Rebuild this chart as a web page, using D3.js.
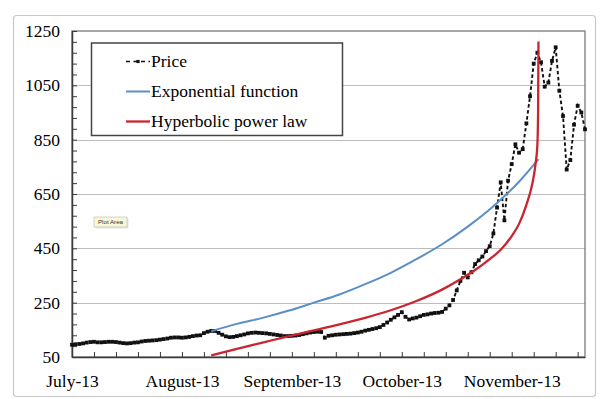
<!DOCTYPE html>
<html>
<head>
<meta charset="utf-8">
<script src="https://cdn.jsdelivr.net/npm/d3@7"></script>
<style>
  html, body { margin: 0; padding: 0; background: #fff; }
  svg { display: block; }
</style>
</head>
<body>
<svg id="chart" width="600" height="399"></svg>
<script>
// ---------- DATA ----------
// x values are days since 1 July 2013
const monthLabels = ["July-13", "August-13", "September-13", "October-13", "November-13"];
const monthDays   = [0, 30, 60, 90, 120];
const yTickValues = [50, 250, 450, 650, 850, 1050, 1250];

// Daily price, days 0..140
const priceValues = [
   95,  97,  98, 100, 103, 105, 106, 104, 104, 105,
  106, 106, 105, 103, 101, 100, 101, 103, 104, 107,
  109, 110, 111, 112, 114, 116, 118, 121, 122, 122,
  121, 122, 124, 127, 129, 130, 138, 143, 146, 146,
  139, 132, 126, 123, 124, 127, 130, 133, 137, 139,
  140, 139, 138, 137, 135, 133, 131, 129, 127, 127,
  128, 129, 131, 134, 137, 140, 142, 143, 142, 121,
  128, 130, 132, 133, 134, 135, 136, 138, 140, 143,
  147, 150, 153, 156, 160, 168, 177, 187, 196, 205,
  215, 198, 188, 192, 195, 200, 205, 207, 210, 212,
  213, 216, 228, 240, 260, 295, 330, 360, 343, 362,
  392, 406, 420, 440, 458, 505, 600, 693, 553, 699,
  760, 833, 802, 815, 910,1010,1130,1170,1135,1045,
 1060,1140,1190,1030, 937, 740, 775, 905, 975, 950,
  888
];

// Exponential function fit
const expDays   = [38, 45, 52, 59, 66, 73, 80, 87, 94, 101, 108, 115, 122, 127.3];
const expValues = [145, 172, 194, 220, 250, 280, 318, 360, 410, 465, 530, 605, 695, 778];

// Hyperbolic power law fit
const hypDays   = [38, 45, 52, 59, 66, 73, 80, 87, 94, 101, 106, 110, 114, 117, 120, 122, 124, 125.5, 126.5, 127, 127.2, 127.3];
const hypValues = [56, 80, 103, 126, 148, 170, 194, 222, 256, 298, 336, 370, 410, 445, 495, 540, 610, 680, 760, 830, 950, 1211];

const legendLabels = ["Price", "Exponential function", "Hyperbolic power law"];

// ---------- DRAWING ----------
const svg = d3.select("#chart");
const plot = { left: 72, right: 585, top: 31, bottom: 357 };

const x = d3.scaleLinear().domain([0, 140]).range([plot.left, plot.right]);
const y = d3.scaleLinear().domain([50, 1250]).range([plot.bottom, plot.top]);

const serif = "'Liberation Serif', 'Times New Roman', 'DejaVu Serif', serif";
const blue = "#5a8fc6";
const red = "#c92530";

// outer chart frame
svg.append("rect")
  .attr("x", 13.5).attr("y", 15.5).attr("width", 582).attr("height", 381)
  .attr("rx", 3)
  .attr("fill", "#fff").attr("stroke", "#c8c8c8").attr("stroke-width", 1.2);

// gridlines
svg.append("g").selectAll("line")
  .data(yTickValues.filter(v => v > 50 && v < 1250))
  .join("line")
  .attr("x1", plot.left).attr("x2", plot.right)
  .attr("y1", d => Math.round(y(d)) + 0.5).attr("y2", d => Math.round(y(d)) + 0.5)
  .attr("stroke", "#bdbdbd").attr("stroke-width", 1);

// plot frame (top/right)
svg.append("rect")
  .attr("x", plot.left).attr("y", plot.top)
  .attr("width", plot.right - plot.left).attr("height", plot.bottom - plot.top)
  .attr("fill", "none").attr("stroke", "#7a7a7a").attr("stroke-width", 1.3);

// y axis
const yAxis = d3.axisLeft(y)
  .tickValues(yTickValues)
  .tickSize(0)
  .tickPadding(12)
  .tickFormat(d3.format("d"));
const gy = svg.append("g").attr("transform", `translate(${plot.left},0)`).call(yAxis);
gy.select(".domain").attr("stroke", "#3a3a3a").attr("stroke-width", 1.5);
gy.selectAll("text").attr("font-family", serif).attr("font-size", "17.5px").attr("fill", "#000");

// y minor ticks (inside)
const yMinor = d3.range(50, 1250.1, 40);
const gyMinor = svg.append("g").attr("transform", `translate(${plot.left},0)`)
  .call(d3.axisRight(y).tickValues(yMinor).tickSize(5).tickFormat(""));
gyMinor.select(".domain").remove();
gyMinor.selectAll("line").attr("stroke", "#3a3a3a").attr("stroke-width", 1);

// x axis
const xAxis = d3.axisBottom(x)
  .tickValues(monthDays)
  .tickSize(0)
  .tickPadding(18)
  .tickFormat((d, i) => monthLabels[i]);
const gx = svg.append("g").attr("transform", `translate(0,${plot.bottom})`).call(xAxis);
gx.select(".domain").attr("stroke", "#3a3a3a").attr("stroke-width", 1.5);
gx.selectAll("text").attr("font-family", serif).attr("font-size", "17.5px").attr("fill", "#000");

// x minor ticks (inside, every 6 days)
const gxMinor = svg.append("g").attr("transform", `translate(0,${plot.bottom})`)
  .call(d3.axisTop(x).tickValues(d3.range(0, 140, 6)).tickSize(5).tickFormat(""));
gxMinor.select(".domain").remove();
gxMinor.selectAll("line").attr("stroke", "#3a3a3a").attr("stroke-width", 1);

// price series
const priceData = priceValues.map((v, i) => [i, v]);
const line = d3.line().x(d => x(d[0])).y(d => y(d[1]));
svg.append("path")
  .datum(priceData)
  .attr("d", line)
  .attr("fill", "none").attr("stroke", "#111").attr("stroke-width", 1.9)
  .attr("stroke-dasharray", "3.5,2.5");
svg.append("g").selectAll("rect")
  .data(priceData)
  .join("rect")
  .attr("x", d => x(d[0]) - 1.9).attr("y", d => y(d[1]) - 1.9)
  .attr("width", 3.8).attr("height", 3.8)
  .attr("fill", "#111");

// exponential fit
const curveLine = d3.line().x(d => x(d[0])).y(d => y(d[1])).curve(d3.curveMonotoneX);
svg.append("path")
  .datum(expDays.map((d, i) => [d, expValues[i]]))
  .attr("d", curveLine)
  .attr("fill", "none").attr("stroke", blue).attr("stroke-width", 2);

// hyperbolic fit
svg.append("path")
  .datum(hypDays.map((d, i) => [d, hypValues[i]]))
  .attr("d", curveLine)
  .attr("fill", "none").attr("stroke", red).attr("stroke-width", 2.3);

// legend
const lg = svg.append("g");
lg.append("rect")
  .attr("x", 91.5).attr("y", 43).attr("width", 251).attr("height", 92.5)
  .attr("fill", "#fff").attr("stroke", "#444").attr("stroke-width", 1.5);
const rowsY = [61.5, 91.5, 121.5];
// price sample
lg.append("line").attr("x1", 126).attr("x2", 150).attr("y1", rowsY[0]).attr("y2", rowsY[0])
  .attr("stroke", "#111").attr("stroke-width", 1.7).attr("stroke-dasharray", "4,3.5");
lg.append("rect").attr("x", 136.4).attr("y", rowsY[0] - 1.6).attr("width", 3.2).attr("height", 3.2).attr("fill", "#111");
lg.append("line").attr("x1", 126).attr("x2", 150).attr("y1", rowsY[1]).attr("y2", rowsY[1])
  .attr("stroke", blue).attr("stroke-width", 2);
lg.append("line").attr("x1", 126).attr("x2", 150).attr("y1", rowsY[2]).attr("y2", rowsY[2])
  .attr("stroke", red).attr("stroke-width", 2.3);
lg.selectAll("text.lbl")
  .data(legendLabels)
  .join("text")
  .attr("class", "lbl")
  .attr("x", 151).attr("y", (d, i) => rowsY[i] + 5.5)
  .attr("font-family", serif).attr("font-size", "17.5px").attr("fill", "#000")
  .text(d => d);

// "Plot Area" tooltip
const tip = svg.append("g");
tip.append("rect").attr("x", 95.5).attr("y", 218.5).attr("width", 33).attr("height", 10)
  .attr("fill", "#d8d8d8").attr("opacity", 0.6);
tip.append("rect").attr("x", 94).attr("y", 217).attr("width", 33).attr("height", 10)
  .attr("fill", "#f7f7dc").attr("stroke", "#b8b8a8").attr("stroke-width", 0.6);
tip.append("text").attr("x", 110.5).attr("y", 224.3)
  .attr("text-anchor", "middle")
  .attr("font-family", "'Liberation Sans', Arial, sans-serif").attr("font-size", "6.2px").attr("fill", "#333")
  .text("Plot Area");
</script>
</body>
</html>
